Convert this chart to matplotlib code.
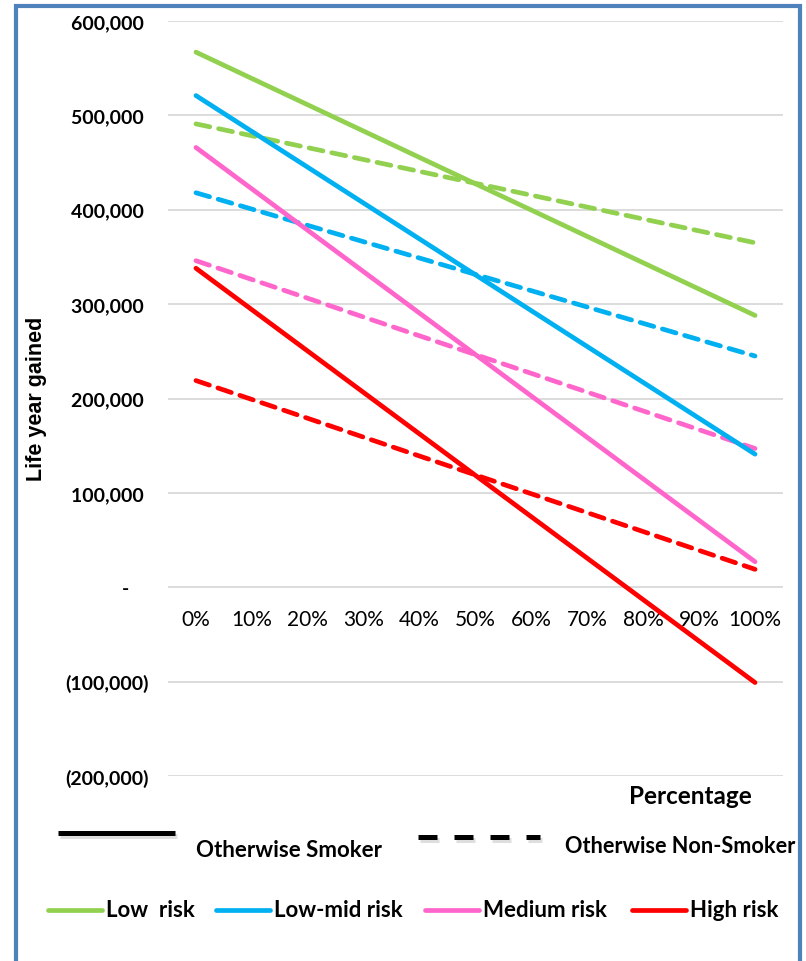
import matplotlib
matplotlib.use('Agg')
import matplotlib.pyplot as plt
from matplotlib.lines import Line2D
from matplotlib.patches import Rectangle
from matplotlib.ticker import FuncFormatter, MultipleLocator

plt.rcParams['font.family'] = ['Lato', 'DejaVu Sans']

categories = ['0%', '10%', '20%', '30%', '40%', '50%', '60%', '70%', '80%', '90%', '100%']
ends = [0, 10]  # first and last category index

# life years gained at 0% and 100%
low_smoker = [567000, 288000]
lowmid_smoker = [521000, 141000]
medium_smoker = [466000, 27000]
high_smoker = [338000, -101000]

low_nonsmoker = [491000, 365000]
lowmid_nonsmoker = [418000, 245000]
medium_nonsmoker = [346000, 147000]
high_nonsmoker = [219000, 19000]

risk_labels = ['Low  risk', 'Low-mid risk', 'Medium risk', 'High risk']
colors = ['#92D050', '#00B0F0', '#FF66CC', '#FF0000']

W, H = 806, 962
fig = plt.figure(figsize=(W / 100, H / 100), dpi=100)
ax = fig.add_axes([168 / W, 1 - 777 / H, 615 / W, 755 / H])

lw = 3.4
for vals, col in zip([low_nonsmoker, lowmid_nonsmoker, medium_nonsmoker, high_nonsmoker], colors):
    ax.plot(ends, vals, color=col, lw=lw, dashes=(3.0, 1.9), dash_capstyle='round', zorder=3)
for vals, col in zip([low_smoker, lowmid_smoker, medium_smoker, high_smoker], colors):
    ax.plot(ends, vals, color=col, lw=lw, solid_capstyle='round', zorder=4)

ax.set_xlim(-0.5, 10.5)
ax.set_ylim(-200000, 600000)
ax.yaxis.set_major_locator(MultipleLocator(100000))


def acct(v, pos):
    if abs(v) < 1:
        return '-    '
    if v < 0:
        return f'({abs(v):,.0f})'
    return f'{v:,.0f} '


ax.yaxis.set_major_formatter(FuncFormatter(acct))
ax.set_xticks(range(len(categories)))
ax.set_xticklabels(categories)
ax.grid(axis='y', color='#D9D9D9', lw=1.3, zorder=0)
for s in ax.spines.values():
    s.set_visible(False)
ax.spines['bottom'].set_position(('data', 0))
ax.tick_params(axis='x', length=0, pad=16, labelsize=15)
ax.tick_params(axis='y', length=0, pad=14, labelsize=14)
for t in ax.get_yticklabels():
    t.set_fontweight('bold')

fig.text(37 / W, 1 - 399 / H, 'Life year gained', rotation=90, ha='center', va='center',
         fontsize=15.5, fontweight='bold', family=['Liberation Sans', 'DejaVu Sans'])
fig.text(752 / W, 1 - 796 / H, 'Percentage', ha='right', va='center',
         fontsize=17.5, fontweight='bold')

# smoker / non-smoker keys
key_lw = 3.6
fig.lines.append(Line2D([60 / W, 177 / W], [1 - 837 / H] * 2, transform=fig.transFigure,
                        color='#C8C8C8', lw=key_lw, alpha=0.6, solid_capstyle='butt'))
fig.lines.append(Line2D([58 / W, 175 / W], [1 - 834 / H] * 2, transform=fig.transFigure,
                        color='black', lw=key_lw, solid_capstyle='butt'))
fig.text(196 / W, 1 - 851 / H, 'Otherwise Smoker', ha='left', va='center',
         fontsize=16, fontweight='bold')
fig.lines.append(Line2D([420 / W, 542 / W], [1 - 841 / H] * 2, transform=fig.transFigure,
                        color='#C8C8C8', lw=key_lw, alpha=0.6, dashes=(3.8, 3.4), dash_capstyle='butt'))
fig.lines.append(Line2D([418 / W, 540 / W], [1 - 838 / H] * 2, transform=fig.transFigure,
                        color='black', lw=key_lw, dashes=(3.8, 3.4), dash_capstyle='butt'))
fig.text(565 / W, 1 - 847 / H, 'Otherwise Non-Smoker', ha='left', va='center',
         fontsize=15.6, fontweight='bold')

# risk group keys
key_x = [48, 216, 425, 632]
for x0, col, lab in zip(key_x, colors, risk_labels):
    fig.lines.append(Line2D([x0 / W, (x0 + 54) / W], [1 - 911 / H] * 2, transform=fig.transFigure,
                            color=col, lw=lw, solid_capstyle='round'))
    fig.text((x0 + 58) / W, 1 - 911 / H, lab, ha='left', va='center',
             fontsize=16, fontweight='bold')

# outer frame
fig.patches.append(Rectangle((16 / W, -0.05), 784 / W, 1.05 - 7 / H, transform=fig.transFigure,
                             fill=False, edgecolor='#4F81BD', lw=3))

fig.savefig('out.png', dpi=100)
